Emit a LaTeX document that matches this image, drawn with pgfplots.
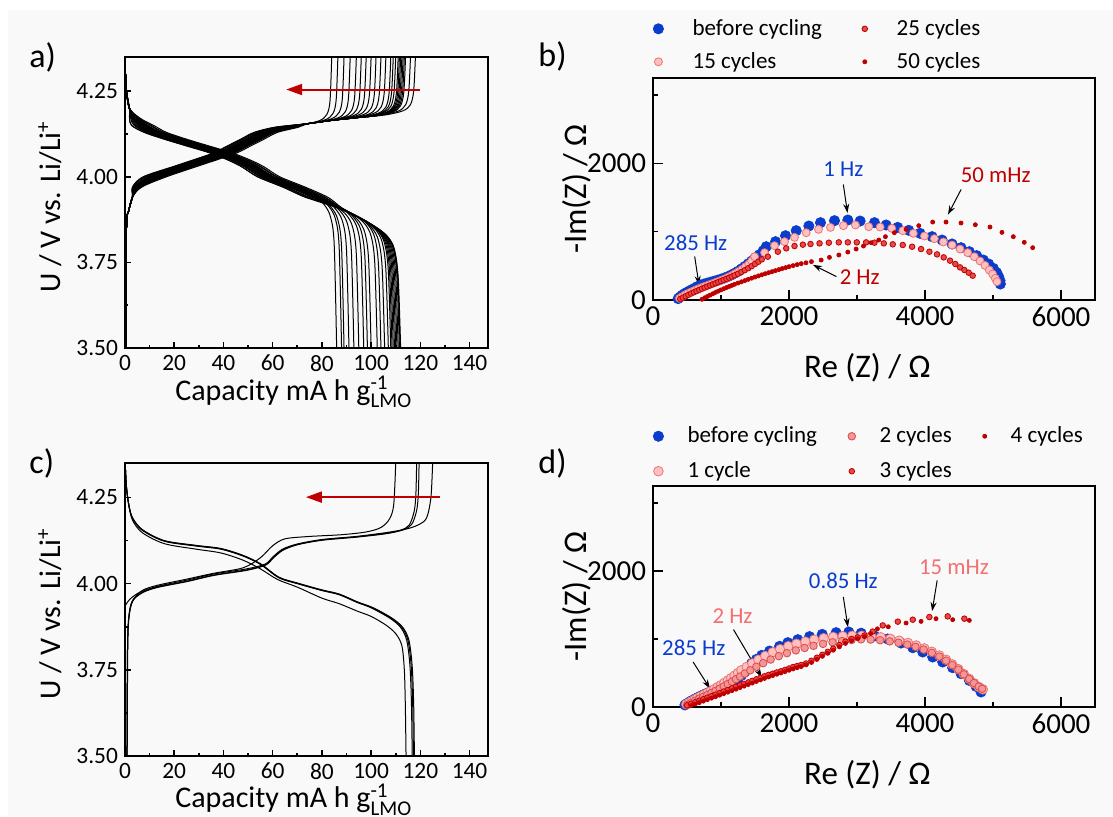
\documentclass[border=0pt]{standalone}
\usepackage{amsmath}
\usepackage{fontspec}
\setmainfont{Carlito}
\usepackage{pgfplots}
\pgfplotsset{compat=1.18}
\usetikzlibrary{arrows.meta}

\definecolor{cblue}{RGB}{10,60,205}
\definecolor{cpink}{RGB}{255,192,192}
\definecolor{cpinkedge}{RGB}{235,115,115}
\definecolor{cmid}{RGB}{245,150,150}
\definecolor{cmidedge}{RGB}{215,75,75}
\definecolor{cred}{RGB}{232,72,72}
\definecolor{credge}{RGB}{190,0,0}
\definecolor{cdark}{RGB}{192,0,0}
\definecolor{csalmon}{RGB}{242,112,112}
\definecolor{bg}{RGB}{249,249,249}

\newcommand{\tfa}{\fontsize{11.7}{13}\selectfont}
\newcommand{\tfb}{\fontsize{14.5}{16}\selectfont}

\pgfplotsset{
  volt/.style={
    scale only axis, width=181.5pt,
    xmin=0, xmax=147.5, ymin=3.5, ymax=4.35,
    xtick={0,20,...,140}, minor x tick num=1,
    ytick={3.5,3.75,4,4.25}, minor y tick num=1,
    tick pos=left, tick align=inside,
    major tick length=3pt, minor tick length=1.7pt,
    every tick/.style={black, line width=0.8pt},
    axis line style={line width=1pt},
    /pgf/number format/assume math mode=true,
    every tick label/.append style={font=\tfa},
    yticklabel style={/pgf/number format/fixed, /pgf/number format/fixed zerofill, /pgf/number format/precision=2},
    label style={font=\fontsize{15}{17}\selectfont},
    xlabel={Capacity mA h g$^{\text{-1}}_{\text{LMO}}$},
    ylabel={U / V vs. Li/Li$^{\text{+}}$},
    xlabel style={at={(axis description cs:0.465,-0.179)}, anchor=base},
    ylabel style={at={(axis description cs:-0.207,0.485)}, anchor=center},
  },
  cv/.style={black, line width=0.5pt, smooth, tension=0.5},
  eis/.style={
    scale only axis, width=221pt,
    xmin=0, xmax=6500, ymin=0, ymax=3250,
    xtick={0,2000,4000,6000}, minor xtick={1000,3000,5000},
    ytick={0,2000}, minor ytick={1000,3000},
    tick pos=left, tick align=inside,
    major tick length=5pt, minor tick length=2.5pt,
    every tick/.style={black, line width=0.8pt},
    axis line style={line width=1.1pt},
    /pgf/number format/assume math mode=true,
    /pgf/number format/1000 sep={},
    every tick label/.append style={font=\tfb},
    label style={font=\fontsize{16.5}{19}\selectfont},
    xlabel={Re (Z) / Ω}, ylabel={-Im(Z) / Ω},
    xlabel style={at={(axis description cs:0.485,-0.351)}, anchor=base},
    ylabel style={at={(axis description cs:-0.172,0.5)}, anchor=center},
    clip=false,
    legend cell align=left,
    legend style={draw=none, fill=none, anchor=north west,
      font=\fontsize{11.5}{13}\selectfont, row sep=3pt},
  },
  mkblue/.style={only marks, mark=*, mark size=2.6pt, mark options={fill=cblue, draw=cblue, line width=0.3pt}},
  mkpink/.style={only marks, mark=*, mark size=2pt, mark options={fill=cpink, draw=cpinkedge, line width=0.4pt}},
  mkpinkb/.style={only marks, mark=*, mark size=2.4pt, mark options={fill=cpink, draw=cpinkedge, line width=0.4pt}},
  mkmid/.style={only marks, mark=*, mark size=1.9pt, mark options={fill=cmid, draw=cmidedge, line width=0.4pt}},
  mkred/.style={only marks, mark=*, mark size=1.4pt, mark options={fill=cred, draw=credge, line width=0.4pt}},
  mkdark/.style={only marks, mark=*, mark size=1pt, mark options={fill=cdark, draw=cdark}},
}
\tikzset{
  ann/.style={font=\fontsize{11.4}{13}\selectfont},
  arr/.style={-{Stealth[length=4.5pt,width=3pt]}, black, line width=0.5pt},
  redarr/.style={-{Triangle[length=8pt,width=5.5pt]}, cdark, line width=1pt},
  plab/.style={font=\fontsize{17}{19}\selectfont, anchor=base west, inner sep=0pt},
}

\begin{document}
\begin{tikzpicture}
\path[use as bounding box] (0,0) rectangle (556.5pt,408pt);
\fill[bg] (4pt,0pt) rectangle (556.5pt,403pt);

\node[plab] at (14.5pt,374pt) {a)};
\node[plab] at (269pt,374.5pt) {b)};
\node[plab] at (14.5pt,171.5pt) {c)};
\node[plab] at (269pt,171.5pt) {d)};

% ---------- a) charge / discharge, 50 cycles ----------
\begin{axis}[volt, at={(62.5pt,234pt)}, anchor=south west, height=145.5pt]
% charge
\addplot[cv] coordinates {(0.3,3.5)(0.6,3.85)(1.5,3.9)(3,3.94)(6.1,3.97)(15,4)(27.3,4.03)(35.7,4.05)(43.7,4.07)(49.2,4.09)(54.7,4.11)(60.2,4.13)(68.7,4.145)(74,4.155)(84,4.165)(97,4.175)(106,4.181)(113,4.193)(116,4.211)(117.3,4.251)(118,4.35)};
\addplot[cv] coordinates {(0.3,3.5)(0.6,3.85)(1.5,3.9)(3,3.94)(6.8,3.97)(16.8,4)(29.1,4.03)(37.5,4.05)(45.5,4.07)(51,4.09)(56.5,4.11)(62,4.13)(70.5,4.145)(74,4.155)(84,4.165)(97,4.175)(104,4.18)(111,4.192)(114,4.21)(115.3,4.25)(116,4.35)};
\addplot[cv] coordinates {(0.3,3.5)(0.6,3.85)(1.5,3.9)(3,3.94)(5.9,3.97)(14.6,4)(26.9,4.03)(35.3,4.05)(43.3,4.07)(48.8,4.09)(54.3,4.11)(59.8,4.13)(68.3,4.145)(74,4.155)(84,4.165)(97,4.175)(102,4.178)(109,4.19)(112,4.208)(113.3,4.248)(114,4.35)};
\addplot[cv] coordinates {(0.3,3.5)(0.6,3.85)(1.5,3.9)(3,3.94)(6.4,3.97)(15.8,4)(28.1,4.03)(36.5,4.05)(44.5,4.07)(50,4.09)(55.5,4.11)(61,4.13)(69.5,4.145)(74,4.155)(84,4.165)(97,4.175)(101.5,4.178)(108.5,4.19)(111.5,4.208)(112.8,4.248)(113.5,4.35)};
\addplot[cv] coordinates {(0.3,3.5)(0.6,3.85)(1.5,3.9)(3,3.94)(5.7,3.97)(14.1,4)(26.4,4.03)(34.8,4.05)(42.8,4.07)(48.3,4.09)(53.8,4.11)(59.3,4.13)(67.8,4.145)(74,4.155)(84,4.165)(97,4.175)(101,4.178)(108,4.19)(111,4.208)(112.3,4.248)(113,4.35)};
\addplot[cv] coordinates {(0.3,3.5)(0.6,3.85)(1.5,3.9)(3,3.94)(3.2,3.97)(7.8,4)(20.1,4.03)(28.5,4.05)(36.5,4.07)(42,4.09)(47.5,4.11)(53,4.13)(61.5,4.145)(74,4.155)(84,4.165)(97,4.175)(100.5,4.177)(107.5,4.189)(110.5,4.207)(111.8,4.247)(112.5,4.35)};
\addplot[cv] coordinates {(0.3,3.5)(0.6,3.85)(1.5,3.9)(3,3.94)(5.5,3.97)(13.7,4)(26,4.03)(34.4,4.05)(42.4,4.07)(47.9,4.09)(53.4,4.11)(58.9,4.13)(67.4,4.145)(74,4.155)(84,4.165)(97,4.175)(100,4.177)(107,4.189)(110,4.207)(111.3,4.247)(112,4.35)};
\addplot[cv] coordinates {(0.3,3.5)(0.6,3.85)(1.5,3.9)(3,3.94)(4.6,3.97)(11.3,4)(23.6,4.03)(32,4.05)(40,4.07)(45.5,4.09)(51,4.11)(56.5,4.13)(65,4.145)(74,4.155)(84,4.165)(97,4.175)(99.5,4.176)(106.5,4.188)(109.5,4.206)(110.8,4.246)(111.5,4.35)};
\addplot[cv] coordinates {(0.3,3.5)(0.6,3.85)(1.5,3.9)(3,3.94)(5.4,3.97)(13.2,4)(25.5,4.03)(33.9,4.05)(41.9,4.07)(47.4,4.09)(52.9,4.11)(58.4,4.13)(66.9,4.145)(74,4.155)(84,4.165)(97,4.175)(99,4.176)(106,4.188)(109,4.206)(110.3,4.246)(111,4.35)};
\addplot[cv] coordinates {(0.3,3.5)(0.6,3.85)(1.5,3.9)(3,3.94)(6.3,3.97)(15.5,4)(27.8,4.03)(36.2,4.05)(44.2,4.07)(49.7,4.09)(55.2,4.11)(60.7,4.13)(69.2,4.145)(74,4.155)(84,4.165)(98,4.176)(105,4.188)(108,4.206)(109.3,4.246)(110,4.35)};
\addplot[cv] coordinates {(0.3,3.5)(0.6,3.85)(1.5,3.9)(3,3.94)(5.2,3.97)(12.8,4)(25.1,4.03)(33.5,4.05)(41.5,4.07)(47,4.09)(52.5,4.11)(58,4.13)(66.5,4.145)(74,4.155)(84,4.165)(97,4.175)(104,4.187)(107,4.205)(108.3,4.245)(109,4.35)};
\addplot[cv] coordinates {(0.3,3.5)(0.6,3.85)(1.5,3.9)(3,3.94)(3.5,3.97)(8.5,4)(20.8,4.03)(29.2,4.05)(37.2,4.07)(42.7,4.09)(48.2,4.11)(53.7,4.13)(62.2,4.145)(74,4.155)(84,4.165)(96,4.174)(103,4.186)(106,4.204)(107.3,4.244)(108,4.35)};
\addplot[cv] coordinates {(0.3,3.5)(0.6,3.85)(1.5,3.9)(3,3.94)(5,3.97)(12.3,4)(24.6,4.03)(33,4.05)(41,4.07)(46.5,4.09)(52,4.11)(57.5,4.13)(66,4.145)(74,4.155)(84,4.165)(94,4.173)(101,4.185)(104,4.203)(105.3,4.243)(106,4.35)};
\addplot[cv] coordinates {(0.3,3.5)(0.6,3.85)(1.5,3.9)(3,3.94)(5.7,3.97)(14.1,4)(26.4,4.03)(34.8,4.05)(42.8,4.07)(48.3,4.09)(53.8,4.11)(59.3,4.13)(67.8,4.145)(74,4.155)(84,4.165)(92,4.171)(99,4.183)(102,4.201)(103.3,4.241)(104,4.35)};
\addplot[cv] coordinates {(0.3,3.5)(0.6,3.85)(1.5,3.9)(3,3.94)(4.8,3.97)(11.9,4)(24.2,4.03)(32.6,4.05)(40.6,4.07)(46.1,4.09)(51.6,4.11)(57.1,4.13)(65.6,4.145)(74,4.155)(84,4.165)(90,4.17)(97,4.182)(100,4.2)(101.3,4.24)(102,4.35)};
\addplot[cv] coordinates {(0.3,3.5)(0.6,3.85)(1.5,3.9)(3,3.94)(4,3.97)(9.7,4)(22,4.03)(30.4,4.05)(38.4,4.07)(43.9,4.09)(49.4,4.11)(54.9,4.13)(63.4,4.145)(74,4.155)(88,4.169)(95,4.181)(98,4.199)(99.3,4.239)(100,4.35)};
\addplot[cv] coordinates {(0.3,3.5)(0.6,3.85)(1.5,3.9)(3,3.94)(4.6,3.97)(11.3,4)(23.6,4.03)(32,4.05)(40,4.07)(45.5,4.09)(51,4.11)(56.5,4.13)(65,4.145)(74,4.155)(86,4.167)(93,4.179)(96,4.197)(97.3,4.237)(98,4.35)};
\addplot[cv] coordinates {(0.3,3.5)(0.6,3.85)(1.5,3.9)(3,3.94)(5.9,3.97)(14.5,4)(26.8,4.03)(35.2,4.05)(43.2,4.07)(48.7,4.09)(54.2,4.11)(59.7,4.13)(68.2,4.145)(74,4.155)(84,4.165)(91,4.177)(94,4.195)(95.3,4.235)(96,4.35)};
\addplot[cv] coordinates {(0.3,3.5)(0.6,3.85)(1.5,3.9)(3,3.94)(4.3,3.97)(10.7,4)(23,4.03)(31.4,4.05)(39.4,4.07)(44.9,4.09)(50.4,4.11)(55.9,4.13)(64.4,4.145)(74,4.155)(82,4.163)(89,4.175)(92,4.193)(93.3,4.233)(94,4.35)};
\addplot[cv] coordinates {(0.3,3.5)(0.6,3.85)(1.5,3.9)(3,3.94)(3,3.97)(7.3,4)(19.6,4.03)(28,4.05)(36,4.07)(41.5,4.09)(47,4.11)(52.5,4.13)(61,4.145)(74,4.155)(79.5,4.16)(86.5,4.172)(89.5,4.19)(90.8,4.23)(91.5,4.35)};
\addplot[cv] coordinates {(0.3,3.5)(0.6,3.85)(1.5,3.9)(3,3.94)(4.1,3.97)(10.1,4)(22.4,4.03)(30.8,4.05)(38.8,4.07)(44.3,4.09)(49.8,4.11)(55.3,4.13)(63.8,4.145)(77,4.158)(84,4.17)(87,4.188)(88.3,4.228)(89,4.35)};
\addplot[cv] coordinates {(0.3,3.5)(0.6,3.85)(1.5,3.9)(3,3.94)(5.4,3.97)(13.3,4)(25.6,4.03)(34,4.05)(42,4.07)(47.5,4.09)(53,4.11)(58.5,4.13)(67,4.145)(74.5,4.155)(81.5,4.167)(84.5,4.185)(85.8,4.225)(86.5,4.35)};
\addplot[cv] coordinates {(0.3,3.5)(0.6,3.85)(1.5,3.9)(3,3.94)(3.8,3.97)(9.3,4)(21.6,4.03)(30,4.05)(38,4.07)(43.5,4.09)(49,4.11)(54.5,4.13)(63,4.145)(72,4.152)(79,4.164)(82,4.182)(83.3,4.222)(84,4.35)};
% discharge
\addplot[cv] coordinates {(0.2,4.3)(0.6,4.25)(1.8,4.2)(5.1,4.17)(9.2,4.15)(14.3,4.13)(22.5,4.11)(31.7,4.09)(41,4.07)(48.1,4.05)(53.8,4.03)(60.4,4)(70.7,3.97)(80,3.94)(87,3.91)(95.5,3.88)(103,3.848)(107,3.823)(109.5,3.788)(111,3.708)(112,3.5)};
\addplot[cv] coordinates {(0.2,4.3)(0.6,4.25)(1.8,4.2)(6.4,4.17)(11.7,4.15)(16.8,4.13)(25,4.11)(34.2,4.09)(43.5,4.07)(50.6,4.05)(56.3,4.03)(62.9,4)(73.2,3.97)(82.5,3.94)(88,3.91)(95.5,3.88)(102.8,3.849)(106.8,3.824)(109.3,3.789)(110.8,3.709)(111.8,3.5)};
\addplot[cv] coordinates {(0.2,4.3)(0.6,4.25)(1.8,4.2)(4.9,4.17)(8.9,4.15)(14,4.13)(22.2,4.11)(31.4,4.09)(40.7,4.07)(47.8,4.05)(53.5,4.03)(60.1,4)(70.4,3.97)(79.7,3.94)(87,3.91)(95.5,3.88)(102.5,3.85)(106.5,3.825)(109,3.79)(110.5,3.71)(111.5,3.5)};
\addplot[cv] coordinates {(0.2,4.3)(0.6,4.25)(1.8,4.2)(4.8,4.17)(8.6,4.15)(13.7,4.13)(21.9,4.11)(31.1,4.09)(40.4,4.07)(47.5,4.05)(53.2,4.03)(59.8,4)(70.1,3.97)(79.4,3.94)(87,3.91)(95.5,3.88)(102,3.852)(106,3.827)(108.5,3.792)(110,3.712)(111,3.5)};
\addplot[cv] coordinates {(0.2,4.3)(0.6,4.25)(1.8,4.2)(1.9,4.17)(2.7,4.15)(7.8,4.13)(16,4.11)(25.2,4.09)(34.5,4.07)(41.6,4.05)(47.3,4.03)(53.9,4)(64.2,3.97)(73.5,3.94)(86,3.91)(95.5,3.88)(101.5,3.854)(105.5,3.829)(108,3.794)(109.5,3.714)(110.5,3.5)};
\addplot[cv] coordinates {(0.2,4.3)(0.6,4.25)(1.8,4.2)(4.7,4.17)(8.3,4.15)(13.4,4.13)(21.6,4.11)(30.8,4.09)(40.1,4.07)(47.2,4.05)(52.9,4.03)(59.5,4)(69.8,3.97)(79.1,3.94)(87,3.91)(95.5,3.88)(101,3.856)(105,3.831)(107.5,3.796)(109,3.716)(110,3.5)};
\addplot[cv] coordinates {(0.2,4.3)(0.6,4.25)(1.8,4.2)(5.6,4.17)(10.2,4.15)(15.3,4.13)(23.5,4.11)(32.7,4.09)(42,4.07)(49.1,4.05)(54.8,4.03)(61.4,4)(71.7,3.97)(81,3.94)(87.5,3.91)(95.5,3.88)(100.5,3.859)(104.5,3.834)(107,3.799)(108.5,3.719)(109.5,3.5)};
\addplot[cv] coordinates {(0.2,4.3)(0.6,4.25)(1.8,4.2)(4.5,4.17)(8,4.15)(13.1,4.13)(21.3,4.11)(30.5,4.09)(39.8,4.07)(46.9,4.05)(52.6,4.03)(59.2,4)(69.5,3.97)(78.8,3.94)(87,3.91)(95.5,3.88)(100,3.861)(104,3.836)(106.5,3.801)(108,3.721)(109,3.5)};
\addplot[cv] coordinates {(0.2,4.3)(0.6,4.25)(1.8,4.2)(2.6,4.17)(4.2,4.15)(9.3,4.13)(17.5,4.11)(26.7,4.09)(36,4.07)(43.1,4.05)(48.8,4.03)(55.4,4)(65.7,3.97)(75,3.94)(86.5,3.91)(95.5,3.88)(99.5,3.863)(103.5,3.838)(106,3.803)(107.5,3.723)(108.5,3.5)};
\addplot[cv] coordinates {(0.2,4.3)(0.6,4.25)(1.8,4.2)(4.85,4.17)(8.7,4.15)(13.8,4.13)(22,4.11)(31.2,4.09)(40.5,4.07)(47.6,4.05)(53.3,4.03)(59.9,4)(70.2,3.97)(79.5,3.94)(87,3.91)(95.5,3.88)(99,3.865)(103,3.84)(105.5,3.805)(107,3.725)(108,3.5)};
\addplot[cv] coordinates {(0.2,4.3)(0.6,4.25)(1.8,4.2)(4.3,4.17)(7.6,4.15)(12.7,4.13)(20.9,4.11)(30.1,4.09)(39.4,4.07)(46.5,4.05)(52.2,4.03)(58.8,4)(69.1,3.97)(78.4,3.94)(87,3.91)(95.5,3.88)(98,3.869)(102,3.844)(104.5,3.809)(106,3.729)(107,3.5)};
\addplot[cv] coordinates {(0.2,4.3)(0.6,4.25)(1.8,4.2)(3.35,4.17)(5.7,4.15)(10.8,4.13)(19,4.11)(28.2,4.09)(37.5,4.07)(44.6,4.05)(50.3,4.03)(56.9,4)(67.2,3.97)(76.5,3.94)(87,3.91)(96.5,3.874)(100.5,3.849)(103,3.814)(104.5,3.734)(105.5,3.5)};
\addplot[cv] coordinates {(0.2,4.3)(0.6,4.25)(1.8,4.2)(4.1,4.17)(7.2,4.15)(12.3,4.13)(20.5,4.11)(29.7,4.09)(39,4.07)(46.1,4.05)(51.8,4.03)(58.4,4)(68.7,3.97)(78,3.94)(87,3.91)(95,3.882)(99,3.857)(101.5,3.822)(103,3.742)(104,3.5)};
\addplot[cv] coordinates {(0.2,4.3)(0.6,4.25)(1.8,4.2)(5.85,4.17)(10.7,4.15)(15.8,4.13)(24,4.11)(33.2,4.09)(42.5,4.07)(49.6,4.05)(55.3,4.03)(61.9,4)(72.2,3.97)(81.5,3.94)(87.5,3.91)(93.5,3.887)(97.5,3.862)(100,3.827)(101.5,3.747)(102.5,3.5)};
\addplot[cv] coordinates {(0.2,4.3)(0.6,4.25)(1.8,4.2)(3.9,4.17)(6.8,4.15)(11.9,4.13)(20.1,4.11)(29.3,4.09)(38.6,4.07)(45.7,4.05)(51.4,4.03)(58,4)(68.3,3.97)(77.6,3.94)(87,3.91)(91,3.896)(95,3.871)(97.5,3.836)(99,3.756)(100,3.5)};
\addplot[cv] coordinates {(0.2,4.3)(0.6,4.25)(1.8,4.2)(2.35,4.17)(3.7,4.15)(8.8,4.13)(17,4.11)(26.2,4.09)(35.5,4.07)(42.6,4.05)(48.3,4.03)(54.9,4)(65.2,3.97)(74.5,3.94)(89.5,3.901)(93.5,3.876)(96,3.841)(97.5,3.761)(98.5,3.5)};
\addplot[cv] coordinates {(0.2,4.3)(0.6,4.25)(1.8,4.2)(3.7,4.17)(6.3,4.15)(11.4,4.13)(19.6,4.11)(28.8,4.09)(38.1,4.07)(45.2,4.05)(50.9,4.03)(57.5,4)(67.8,3.97)(77.1,3.94)(88,3.907)(92,3.882)(94.5,3.847)(96,3.767)(97,3.5)};
\addplot[cv] coordinates {(0.2,4.3)(0.6,4.25)(1.8,4.2)(5.1,4.17)(9.2,4.15)(14.3,4.13)(22.5,4.11)(31.7,4.09)(41,4.07)(48.1,4.05)(53.8,4.03)(60.4,4)(70.7,3.97)(80,3.94)(86,3.913)(90,3.888)(92.5,3.853)(94,3.773)(95,3.5)};
\addplot[cv] coordinates {(0.2,4.3)(0.6,4.25)(1.8,4.2)(3.4,4.17)(5.8,4.15)(10.9,4.13)(19.1,4.11)(28.3,4.09)(37.6,4.07)(44.7,4.05)(50.4,4.03)(57,4)(67.3,3.97)(76.6,3.94)(84,3.92)(88,3.895)(90.5,3.86)(92,3.78)(93,3.5)};
\addplot[cv] coordinates {(0.2,4.3)(0.6,4.25)(1.8,4.2)(1.85,4.17)(2.7,4.15)(7.8,4.13)(16,4.11)(25.2,4.09)(34.5,4.07)(41.6,4.05)(47.3,4.03)(53.9,4)(64.2,3.97)(73.5,3.94)(82,3.927)(86,3.902)(88.5,3.867)(90,3.787)(91,3.5)};
\addplot[cv] coordinates {(0.2,4.3)(0.6,4.25)(1.8,4.2)(3.2,4.17)(5.3,4.15)(10.4,4.13)(18.6,4.11)(27.8,4.09)(37.1,4.07)(44.2,4.05)(49.9,4.03)(56.5,4)(66.8,3.97)(76.1,3.94)(80,3.934)(84,3.909)(86.5,3.874)(88,3.794)(89,3.5)};
\addplot[cv] coordinates {(0.2,4.3)(0.6,4.25)(1.8,4.2)(4.5,4.17)(8,4.15)(13.1,4.13)(21.3,4.11)(30.5,4.09)(39.8,4.07)(46.9,4.05)(52.6,4.03)(59.2,4)(69.5,3.97)(79,3.937)(83,3.912)(85.5,3.877)(87,3.797)(88,3.5)};
\addplot[cv] coordinates {(0.2,4.3)(0.6,4.25)(1.8,4.2)(2.9,4.17)(4.7,4.15)(9.8,4.13)(18,4.11)(27.2,4.09)(36.5,4.07)(43.6,4.05)(49.3,4.03)(55.9,4)(66.2,3.97)(77,3.943)(81,3.918)(83.5,3.883)(85,3.803)(86,3.5)};
\draw[redarr] (axis cs:120,4.255) -- (axis cs:65.5,4.255);
\end{axis}

% ---------- c) charge / discharge, 4 cycles ----------
\begin{axis}[volt, at={(62.5pt,30pt)}, anchor=south west, height=146.5pt,
  xlabel style={at={(axis description cs:0.465,-0.177)}}]
\addplot[cv] coordinates {(0.8,3.5)(1,3.8)(1.5,3.9)(3,3.95)(7,3.975)(13,3.99)(25,4.007)(36,4.025)(49.5,4.04)(57,4.055)(60,4.075)(64,4.098)(70,4.114)(80,4.127)(94,4.136)(106,4.146)(112,4.155)(115.5,4.17)(117.5,4.21)(118.2,4.26)(118.5,4.35)};
\addplot[cv] coordinates {(0.9,3.5)(1.1,3.8)(1.6,3.9)(3.2,3.95)(7.2,3.974)(13.2,3.989)(25.2,4.006)(36.2,4.024)(49.7,4.039)(57.2,4.054)(60.2,4.074)(64.2,4.097)(70.2,4.113)(80.2,4.126)(94.2,4.135)(106.2,4.145)(113,4.156)(116.5,4.172)(118.5,4.212)(119.2,4.262)(119.5,4.35)};
\addplot[cv] coordinates {(0,3.935)(2,3.955)(6,3.975)(13,3.992)(25,4.01)(36,4.028)(49.5,4.043)(57,4.057)(60,4.077)(64,4.1)(70,4.115)(80,4.128)(94,4.137)(106,4.148)(114,4.158)(119,4.17)(122.5,4.19)(124.3,4.25)(125,4.35)};
\addplot[cv] coordinates {(0.8,3.5)(1,3.8)(1.5,3.9)(3,3.95)(7,3.98)(13,3.995)(25,4.013)(36,4.03)(48,4.046)(55,4.075)(60,4.11)(65,4.13)(75,4.137)(88,4.142)(98,4.15)(104,4.163)(107.5,4.188)(109.2,4.23)(110,4.35)};
\addplot[cv] coordinates {(0.2,4.33)(0.6,4.28)(1.5,4.23)(3,4.19)(7,4.155)(16,4.123)(29,4.109)(39,4.1)(48,4.08)(55,4.056)(62.5,4.017)(70,4)(80,3.98)(87,3.968)(94.5,3.945)(100,3.93)(107.6,3.9)(112,3.873)(114.5,3.835)(115.8,3.76)(116.4,3.65)(116.7,3.5)};
\addplot[cv] coordinates {(0.2,4.33)(0.6,4.28)(1.5,4.23)(3,4.191)(7,4.156)(16,4.124)(29,4.11)(39,4.101)(48,4.081)(55,4.057)(62.5,4.018)(70,4.001)(80,3.981)(87,3.969)(94.5,3.946)(100.5,3.93)(108.1,3.9)(112.5,3.873)(115,3.835)(116.3,3.76)(116.9,3.65)(117.2,3.5)};
\addplot[cv] coordinates {(0.2,4.33)(0.6,4.28)(1.5,4.23)(3,4.192)(7,4.157)(16,4.125)(29,4.111)(39,4.102)(48,4.082)(55,4.058)(62.5,4.019)(70,4.002)(80,3.982)(87,3.97)(94.5,3.947)(100.9,3.93)(108.5,3.9)(112.9,3.873)(115.4,3.835)(116.7,3.76)(117.3,3.65)(117.6,3.5)};
\addplot[cv] coordinates {(0.2,4.33)(0.6,4.28)(1.5,4.23)(3,4.185)(7,4.148)(16,4.116)(29,4.1)(39,4.089)(48,4.068)(55,4.043)(62,4.012)(70,3.99)(80,3.958)(87,3.942)(94.5,3.92)(100,3.905)(106,3.88)(110,3.855)(112.5,3.82)(113.5,3.75)(113.9,3.65)(114.2,3.5)};
\draw[redarr] (axis cs:128,4.251) -- (axis cs:73.5,4.251);
\end{axis}

% ---------- b) impedance, 15/25/50 cycles ----------
\begin{axis}[eis, at={(326.5pt,258pt)}, anchor=south west, height=111pt,
  legend columns=2, legend style={at={(axis description cs:-0.014,1.302)},
    /tikz/every odd column/.append style={column sep=12.5pt},
    /tikz/every even column/.append style={column sep=18pt}}]
\addlegendimage{mkblue}\addlegendentry{before cycling}
\addlegendimage{mkred}\addlegendentry{25 cycles}
\addlegendimage{mkpink}\addlegendentry{15 cycles}
\addlegendimage{mkdark}\addlegendentry{50 cycles}
\addplot[mkblue, forget plot] coordinates {(370,20)(400,45)(430,70)(460,90)(495,110)(530,130)(570,150)(610,172)(650,195)(700,218)(750,234)(800,248)(850,262)(900,276)(950,290)(1000,305)(1050,322)(1100,342)(1150,365)(1200,392)(1250,420)(1300,455)(1350,490)(1400,530)(1450,570)(1500,615)(1560,660)(1620,720)(1665,780)(1802,854)(1949,941)(2106,1015)(2292,1083)(2463,1132)(2669,1161)(2865,1171)(3046,1156)(3257,1132)(3428,1098)(3599,1063)(3761,1020)(3927,976)(4104,927)(4251,878)(4398,820)(4530,766)(4652,707)(4760,649)(4858,585)(4936,527)(5005,463)(5054,400)(5083,341)(5103,283)(5108,234)};
\addplot[mkpink, forget plot] coordinates {(390,25)(430,50)(470,75)(510,95)(560,118)(610,140)(660,162)(710,182)(760,200)(810,218)(860,236)(910,254)(960,272)(1010,292)(1060,312)(1110,335)(1160,360)(1210,388)(1260,418)(1310,450)(1360,487)(1410,527)(1450,570)(1494,634)(1640,693)(1787,795)(1934,854)(2081,917)(2253,985)(2434,1034)(2610,1063)(2801,1088)(2977,1098)(3173,1073)(3340,1068)(3511,1049)(3673,1015)(3829,976)(3991,937)(4138,898)(4270,849)(4398,805)(4515,746)(4628,693)(4726,634)(4809,571)(4882,507)(4946,439)(4995,380)(5034,317)(5059,268)};
\addplot[mkred, forget plot] coordinates {(400,15)(440,35)(480,55)(520,75)(560,95)(600,113)(640,130)(680,148)(720,165)(760,182)(800,198)(840,214)(880,230)(920,246)(960,262)(1000,278)(1040,294)(1080,310)(1120,327)(1160,344)(1200,362)(1250,385)(1300,410)(1350,437)(1400,465)(1450,495)(1500,527)(1550,560)(1600,595)(1689,634)(1836,707)(1959,756)(2081,790)(2204,810)(2316,820)(2449,829)(2586,839)(2732,844)(2865,844)(2997,844)(3134,844)(3257,839)(3394,829)(3526,815)(3673,805)(3810,780)(3942,746)(4065,707)(4177,668)(4275,624)(4368,576)(4446,527)(4515,478)(4579,439)(4642,400)(4701,356)};
\addplot[mkdark, forget plot] coordinates {(720,10)(760,32)(800,52)(840,72)(880,92)(920,112)(960,130)(1000,148)(1040,165)(1080,182)(1120,198)(1160,214)(1200,230)(1250,248)(1300,266)(1350,284)(1400,302)(1450,319)(1500,336)(1550,353)(1600,369)(1650,385)(1700,400)(1750,415)(1800,430)(1850,445)(1900,460)(1950,474)(2000,488)(2060,503)(2120,518)(2180,532)(2250,545)(2330,562)(2473,585)(2595,624)(2733,659)(2865,702)(2987,746)(3095,790)(3208,839)(3320,878)(3418,927)(3550,985)(3722,1034)(3908,1088)(4113,1141)(4309,1141)(4530,1127)(4740,1102)(4956,1068)(5132,990)(5299,927)(5460,844)(5583,766)};
\node[ann, text=cblue] at (axis cs:628,843) {285 Hz};
\draw[arr] (axis cs:613,637) -- (axis cs:676,221);
\node[ann, text=cblue] at (axis cs:2799,1912) {1 Hz};
\draw[arr] (axis cs:2799,1691) -- (axis cs:2860,1275);
\node[ann, text=cdark] at (axis cs:5039,1828) {50 mHz};
\draw[arr] (axis cs:4531,1618) -- (axis cs:4338,1250);
\node[ann, text=cdark] at (axis cs:3040,335) {2 Hz};
\draw[arr] (axis cs:2697,343) -- (axis cs:2353,515);
\end{axis}

% ---------- d) impedance, 1-4 cycles ----------
\begin{axis}[eis, at={(326.5pt,54.5pt)}, anchor=south west, height=110.5pt,
  legend columns=3, legend style={at={(axis description cs:-0.014,1.306)}, row sep=4pt,
    /tikz/every odd column/.append style={column sep=10pt},
    /tikz/every even column/.append style={column sep=13.5pt},
    /tikz/column 4/.append style={column sep=9pt}}]
\addlegendimage{mkblue}\addlegendentry{before cycling}
\addlegendimage{mkmid}\addlegendentry{2 cycles}
\addlegendimage{mkdark}\addlegendentry{4 cycles}
\addlegendimage{mkpinkb}\addlegendentry{1 cycle}
\addlegendimage{mkred}\addlegendentry{3 cycles}
\addplot[mkblue, forget plot] coordinates {(470,30)(500,50)(540,75)(580,98)(620,120)(660,140)(700,160)(740,178)(780,196)(820,214)(860,232)(900,250)(940,268)(980,287)(1020,307)(1060,328)(1100,350)(1150,378)(1200,407)(1250,420)(1300,465)(1350,515)(1400,575)(1450,640)(1520,700)(1600,760)(1714,823)(1861,892)(1983,946)(2130,990)(2302,1035)(2488,1068)(2693,1093)(2879,1103)(3061,1085)(3257,1045)(3452,1000)(3648,941)(3820,872)(3967,809)(4113,735)(4260,662)(4407,578)(4530,490)(4652,392)(4750,304)(4824,221)};
\addplot[mkpinkb, forget plot] coordinates {(490,40)(530,62)(570,85)(610,108)(650,130)(700,155)(750,180)(800,205)(850,232)(900,262)(950,292)(1000,322)(1050,355)(1100,390)(1150,425)(1200,462)(1250,500)(1300,540)(1380,590)(1460,640)(1550,695)(1650,750)(1760,805)(1870,850)(1990,895)(2110,930)(2240,962)(2370,990)(2510,1012)(2650,1030)(2790,1042)(2930,1048)(3070,1048)(3210,1040)(3350,1025)(3490,1002)(3620,975)(3750,942)(3870,905)(3990,862)(4100,812)(4210,757)(4310,695)(4400,628)(4490,557)(4570,485)(4650,415)(4720,350)(4790,295)(4850,260)};
\addplot[mkmid, forget plot] coordinates {(500,30)(560,60)(620,92)(680,122)(740,150)(800,178)(860,208)(920,238)(980,270)(1040,303)(1100,338)(1160,373)(1220,410)(1280,448)(1350,492)(1430,540)(1520,592)(1620,645)(1730,698)(1850,748)(1970,792)(2100,833)(2230,868)(2360,900)(2500,928)(2640,952)(2780,970)(2920,985)(3060,995)(3200,992)(3340,982)(3480,965)(3610,945)(3740,918)(3860,885)(3980,845)(4100,797)(4210,742)(4310,682)(4400,618)(4490,550)(4570,480)(4650,412)(4720,352)(4790,300)(4840,268)};
\addplot[mkred, forget plot] coordinates {(500,25)(560,48)(620,70)(680,93)(740,115)(800,138)(860,160)(920,183)(980,205)(1040,228)(1100,250)(1160,273)(1220,295)(1280,318)(1340,340)(1400,362)(1460,385)(1520,408)(1580,430)(1640,452)(1700,472)(1760,490)(1820,508)(1880,525)(1940,545)(2000,566)(2060,588)(2120,603)(2180,618)(2250,640)(2330,680)(2410,725)(2490,768)(2570,812)(2650,858)(2740,912)(2830,962)(2920,1000)(3010,1025)(3110,1052)(3230,1110)(3379,1200)(3600,1255)(3820,1284)(4064,1323)(4334,1333)(4579,1299)};
\addplot[mkdark, forget plot] coordinates {(560,20)(620,42)(680,64)(740,86)(800,108)(860,130)(920,152)(980,174)(1040,196)(1100,218)(1160,240)(1220,262)(1280,285)(1340,307)(1400,330)(1460,352)(1520,375)(1580,398)(1640,420)(1700,442)(1760,462)(1820,482)(1880,500)(1940,520)(2000,540)(2060,560)(2120,578)(2180,595)(2250,620)(2330,655)(2410,700)(2490,745)(2570,790)(2650,835)(2740,885)(2830,935)(2920,975)(3010,1005)(3110,1035)(3200,1080)(3300,1150)(3460,1180)(3722,1235)(3942,1259)(4162,1299)(4407,1284)(4652,1274)};
\node[ann, text=cblue] at (axis cs:599,878) {285 Hz};
\draw[arr] (axis cs:590,662) -- (axis cs:837,272);
\node[ann, text=csalmon] at (axis cs:1169,1338) {2 Hz};
\draw[arr] (axis cs:1184,1138) -- (axis cs:1600,436);
\node[ann, text=cblue] at (axis cs:2799,1853) {0.85 Hz};
\draw[arr] (axis cs:2799,1618) -- (axis cs:2866,1176);
\node[ann, text=csalmon] at (axis cs:4426,2059) {15 mHz};
\draw[arr] (axis cs:4179,1863) -- (axis cs:4105,1410);
\end{axis}
\end{tikzpicture}
\end{document}
